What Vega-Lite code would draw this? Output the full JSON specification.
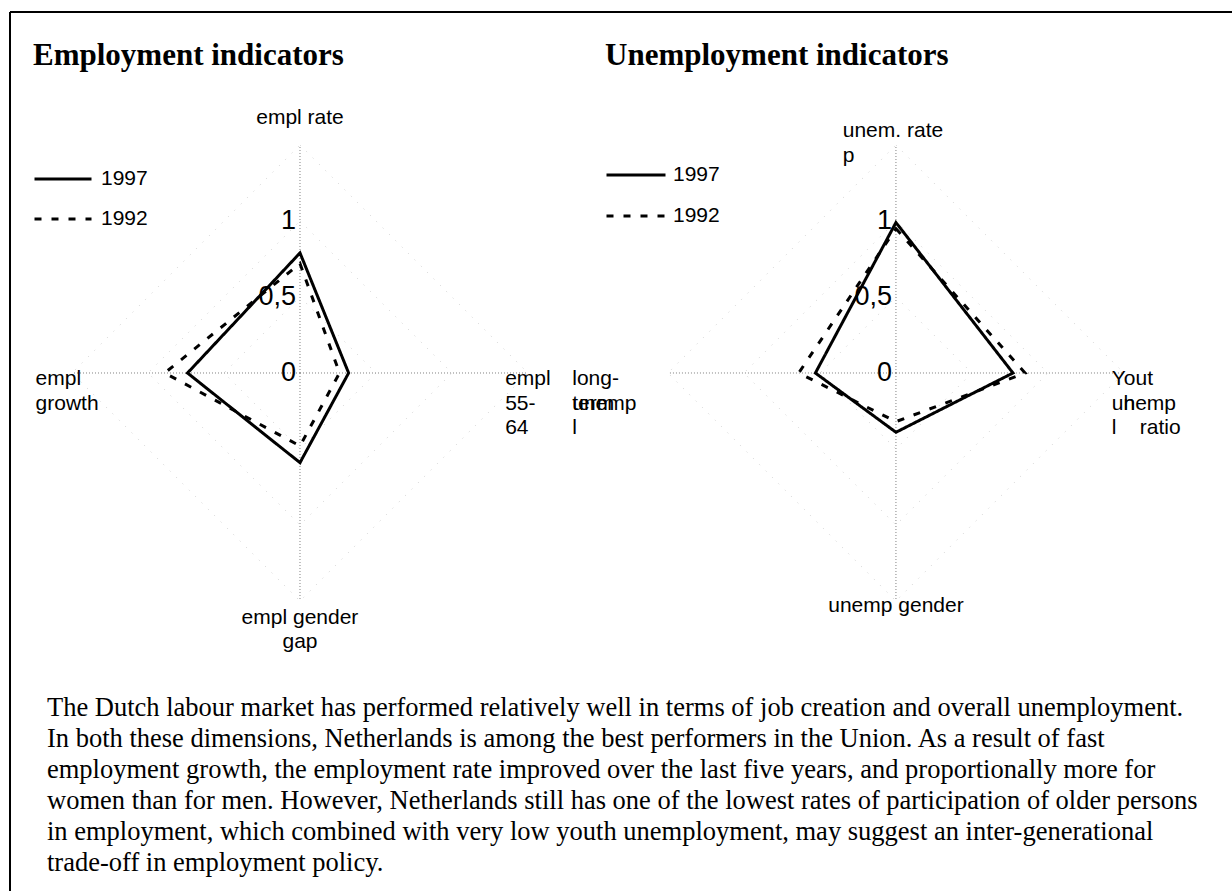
{
  "$schema": "https://vega.github.io/schema/vega-lite/v6.json",
  "width": 1222,
  "height": 879,
  "padding": {"left": 10, "top": 12, "right": 0, "bottom": 0},
  "autosize": {"type": "none"},
  "background": "white",
  "config": {"view": {"stroke": null}},
  "title": {
    "text": [
      "The Dutch labour market has performed relatively well in terms of job creation and overall unemployment.",
      "In both these dimensions, Netherlands is among the best performers in the Union. As a result of fast",
      "employment growth, the employment rate improved over the last five years, and proportionally more for",
      "women than for men. However, Netherlands still has one of the lowest rates of participation of older persons",
      "in employment, which combined with very low youth unemployment, may suggest an inter-generational",
      "trade-off in employment policy."
    ],
    "orient": "bottom",
    "anchor": "start",
    "frame": "group",
    "offset": -197,
    "dx": 37,
    "baseline": "top",
    "font": "Liberation Serif",
    "fontSize": 26.5,
    "fontWeight": "normal",
    "color": "black",
    "lineHeight": 31
  },
  "datasets": {
    "values": [
      {"chart": "E", "order": 0, "axis": "empl rate", "year": "1997", "value": 0.79},
      {"chart": "E", "order": 1, "axis": "empl 55-64", "year": "1997", "value": 0.32},
      {"chart": "E", "order": 2, "axis": "empl gender gap", "year": "1997", "value": 0.59},
      {"chart": "E", "order": 3, "axis": "empl growth", "year": "1997", "value": 0.74},
      {"chart": "E", "order": 0, "axis": "empl rate", "year": "1992", "value": 0.72},
      {"chart": "E", "order": 1, "axis": "empl 55-64", "year": "1992", "value": 0.26},
      {"chart": "E", "order": 2, "axis": "empl gender gap", "year": "1992", "value": 0.48},
      {"chart": "E", "order": 3, "axis": "empl growth", "year": "1992", "value": 0.89},
      {"chart": "U", "order": 0, "axis": "unem. rate", "year": "1997", "value": 0.99},
      {"chart": "U", "order": 1, "axis": "Youth unempl ratio", "year": "1997", "value": 0.77},
      {"chart": "U", "order": 2, "axis": "unemp gender", "year": "1997", "value": 0.39},
      {"chart": "U", "order": 3, "axis": "long-term unempl", "year": "1997", "value": 0.53},
      {"chart": "U", "order": 0, "axis": "unem. rate", "year": "1992", "value": 0.95},
      {"chart": "U", "order": 1, "axis": "Youth unempl ratio", "year": "1992", "value": 0.85},
      {"chart": "U", "order": 2, "axis": "unemp gender", "year": "1992", "value": 0.32},
      {"chart": "U", "order": 3, "axis": "long-term unempl", "year": "1992", "value": 0.64}
    ],
    "spokes": [{"order": 0}, {"order": 1}, {"order": 2}, {"order": 3}],
    "grid": [
      {"level": 0.5, "order": 0}, {"level": 0.5, "order": 1}, {"level": 0.5, "order": 2}, {"level": 0.5, "order": 3},
      {"level": 1, "order": 0}, {"level": 1, "order": 1}, {"level": 1, "order": 2}, {"level": 1, "order": 3},
      {"level": 1.5, "order": 0}, {"level": 1.5, "order": 1}, {"level": 1.5, "order": 2}, {"level": 1.5, "order": 3}
    ],
    "ticks": [
      {"tick": 0, "label": "0"},
      {"tick": 0.5, "label": "0,5"},
      {"tick": 1, "label": "1"}
    ],
    "labels": [
      {"chart": "E", "order": 0, "text": "empl rate"},
      {"chart": "E", "order": 1, "text": "empl\n55-\n64"},
      {"chart": "E", "order": 2, "text": "empl gender\ngap"},
      {"chart": "E", "order": 3, "text": "empl\ngrowth"},
      {"chart": "U", "order": 0, "text": "unem. rate\np"},
      {"chart": "U", "order": 1, "text": "Yout\nunemp\nl\u00a0\u00a0\u00a0\u00a0ratio"},
      {"chart": "U", "order": 1, "text": "\n\u200b\u00a0\u00a0h\n"},
      {"chart": "U", "order": 2, "text": "unemp gender"},
      {"chart": "U", "order": 3, "text": "long-\nterm\nl"},
      {"chart": "U", "order": 3, "text": "\nunemp\n"}
    ],
    "frame": [{"edge": "frame"}]
  },
  "resolve": {
    "scale": {"x": "independent", "strokeDash": "independent"},
    "legend": {"strokeDash": "independent"}
  },
  "layer": [
    {
      "layer": [
        {
          "data": {"name": "frame"},
          "mark": {"type": "rule", "stroke": "black", "strokeWidth": 2},
          "encoding": {
            "y": {"datum": 2.375, "type": "quantitative", "scale": {"domain": [-3.408, 2.375], "nice": false, "zero": false}, "axis": null}
          }
        },
        {
          "data": {"name": "frame"},
          "mark": {"type": "rule", "stroke": "black", "strokeWidth": 2},
          "encoding": {
            "x": {"datum": -1.908, "type": "quantitative", "scale": {"domain": [-1.908, 6.132], "nice": false, "zero": false}, "axis": null}
          }
        },
        {
          "data": {"name": "grid"},
          "transform": [
            {"calculate": "datum.level*sin(datum.order*PI/2)", "as": "gx"},
            {"calculate": "datum.level*cos(datum.order*PI/2)", "as": "gy"}
          ],
          "mark": {"type": "line", "interpolate": "linear-closed", "stroke": "#d2d2d2", "strokeWidth": 1, "strokeDash": [1, 8]},
          "encoding": {
            "x": {"field": "gx", "type": "quantitative", "scale": {"domain": [-1.908, 6.132], "nice": false, "zero": false}, "axis": null},
            "y": {"field": "gy", "type": "quantitative", "scale": {"domain": [-3.408, 2.375], "nice": false, "zero": false}, "axis": null},
            "detail": {"field": "level", "type": "nominal"},
            "order": {"field": "order", "type": "quantitative"}
          }
        },
        {
          "data": {"name": "spokes"},
          "transform": [
            {"calculate": "0", "as": "c"},
            {"calculate": "1.5*sin(datum.order*PI/2)", "as": "sx"},
            {"calculate": "1.5*cos(datum.order*PI/2)", "as": "sy"}
          ],
          "mark": {"type": "rule", "stroke": "#808080", "strokeWidth": 1, "strokeDash": [1, 2]},
          "encoding": {
            "x": {"field": "c", "type": "quantitative", "scale": {"domain": [-1.908, 6.132], "nice": false, "zero": false}, "axis": null},
            "y": {"field": "c", "type": "quantitative", "scale": {"domain": [-3.408, 2.375], "nice": false, "zero": false}, "axis": null},
            "x2": {"field": "sx"},
            "y2": {"field": "sy"}
          }
        },
        {
          "data": {"name": "values"},
          "transform": [
            {"filter": "datum.chart == 'E'"},
            {"calculate": "datum.value*sin(datum.order*PI/2)", "as": "px"},
            {"calculate": "datum.value*cos(datum.order*PI/2)", "as": "py"}
          ],
          "mark": {"type": "line", "interpolate": "linear-closed", "color": "black", "strokeWidth": 3},
          "encoding": {
            "x": {"field": "px", "type": "quantitative", "scale": {"domain": [-1.908, 6.132], "nice": false, "zero": false}, "axis": null},
            "y": {"field": "py", "type": "quantitative", "scale": {"domain": [-3.408, 2.375], "nice": false, "zero": false}, "axis": null},
            "order": {"field": "order", "type": "quantitative"},
            "strokeDash": {
              "field": "year",
              "type": "nominal",
              "scale": {"domain": ["1997", "1992"], "range": [[1, 0], [7, 10]]},
              "legend": {
                "orient": "none",
                "legendX": 23,
                "legendY": 29,
                "title": "Employment indicators",
                "titleFont": "Liberation Serif",
                "titleFontSize": 31,
                "titleFontWeight": "bold",
                "titleColor": "black",
                "titlePadding": 77,
                "titleLimit": 1000,
                "symbolType": "stroke",
                "symbolSize": 3249,
                "symbolStrokeWidth": 3,
                "symbolStrokeColor": "black",
                "labelFont": "Liberation Sans",
                "labelFontSize": 21,
                "labelColor": "black",
                "labelOffset": 8,
                "rowPadding": -25
              }
            }
          }
        },
        {
          "data": {"name": "ticks"},
          "transform": [{"calculate": "0", "as": "tx"}],
          "mark": {"type": "text", "align": "right", "baseline": "middle", "dx": -4, "font": "Liberation Sans", "fontSize": 27, "color": "black"},
          "encoding": {
            "x": {"field": "tx", "type": "quantitative", "scale": {"domain": [-1.908, 6.132], "nice": false, "zero": false}, "axis": null},
            "y": {"field": "tick", "type": "quantitative", "scale": {"domain": [-3.408, 2.375], "nice": false, "zero": false}, "axis": null},
            "text": {"field": "label", "type": "nominal"}
          }
        },
        {
          "data": {"name": "labels"},
          "transform": [
            {"filter": "datum.chart == 'E' && (datum.order == 0 || datum.order == 2)"},
            {"calculate": "0", "as": "lx"},
            {"calculate": "datum.order == 0 ? 1.68 : -1.61", "as": "ly"}
          ],
          "mark": {"type": "text", "align": "center", "baseline": "middle", "lineBreak": "\n", "lineHeight": 24.5, "font": "Liberation Sans", "fontSize": 21, "color": "black"},
          "encoding": {
            "x": {"field": "lx", "type": "quantitative", "scale": {"domain": [-1.908, 6.132], "nice": false, "zero": false}, "axis": null},
            "y": {"field": "ly", "type": "quantitative", "scale": {"domain": [-3.408, 2.375], "nice": false, "zero": false}, "axis": null},
            "text": {"field": "text", "type": "nominal"}
          }
        },
        {
          "data": {"name": "labels"},
          "transform": [
            {"filter": "datum.chart == 'E' && (datum.order == 1 || datum.order == 3)"},
            {"calculate": "datum.order == 1 ? 1.35 : -1.74", "as": "lx"},
            {"calculate": "-0.04", "as": "ly"}
          ],
          "mark": {"type": "text", "align": "left", "baseline": "middle", "lineBreak": "\n", "lineHeight": 24.5, "font": "Liberation Sans", "fontSize": 21, "color": "black"},
          "encoding": {
            "x": {"field": "lx", "type": "quantitative", "scale": {"domain": [-1.908, 6.132], "nice": false, "zero": false}, "axis": null},
            "y": {"field": "ly", "type": "quantitative", "scale": {"domain": [-3.408, 2.375], "nice": false, "zero": false}, "axis": null},
            "text": {"field": "text", "type": "nominal"}
          }
        }
      ]
    },
    {
      "layer": [
        {
          "data": {"name": "grid"},
          "transform": [
            {"calculate": "datum.level*sin(datum.order*PI/2)", "as": "gx"},
            {"calculate": "datum.level*cos(datum.order*PI/2)", "as": "gy"}
          ],
          "mark": {"type": "line", "interpolate": "linear-closed", "stroke": "#d2d2d2", "strokeWidth": 1, "strokeDash": [1, 8]},
          "encoding": {
            "x": {"field": "gx", "type": "quantitative", "scale": {"domain": [-5.829, 2.211], "nice": false, "zero": false}, "axis": null},
            "y": {"field": "gy", "type": "quantitative", "scale": {"domain": [-3.408, 2.375], "nice": false, "zero": false}, "axis": null},
            "detail": {"field": "level", "type": "nominal"},
            "order": {"field": "order", "type": "quantitative"}
          }
        },
        {
          "data": {"name": "spokes"},
          "transform": [
            {"calculate": "0", "as": "c"},
            {"calculate": "1.5*sin(datum.order*PI/2)", "as": "sx"},
            {"calculate": "1.5*cos(datum.order*PI/2)", "as": "sy"}
          ],
          "mark": {"type": "rule", "stroke": "#808080", "strokeWidth": 1, "strokeDash": [1, 2]},
          "encoding": {
            "x": {"field": "c", "type": "quantitative", "scale": {"domain": [-5.829, 2.211], "nice": false, "zero": false}, "axis": null},
            "y": {"field": "c", "type": "quantitative", "scale": {"domain": [-3.408, 2.375], "nice": false, "zero": false}, "axis": null},
            "x2": {"field": "sx"},
            "y2": {"field": "sy"}
          }
        },
        {
          "data": {"name": "values"},
          "transform": [
            {"filter": "datum.chart == 'U'"},
            {"calculate": "datum.value*sin(datum.order*PI/2)", "as": "px"},
            {"calculate": "datum.value*cos(datum.order*PI/2)", "as": "py"}
          ],
          "mark": {"type": "line", "interpolate": "linear-closed", "color": "black", "strokeWidth": 3},
          "encoding": {
            "x": {"field": "px", "type": "quantitative", "scale": {"domain": [-5.829, 2.211], "nice": false, "zero": false}, "axis": null},
            "y": {"field": "py", "type": "quantitative", "scale": {"domain": [-3.408, 2.375], "nice": false, "zero": false}, "axis": null},
            "order": {"field": "order", "type": "quantitative"},
            "strokeDash": {
              "field": "year",
              "type": "nominal",
              "scale": {"domain": ["1997", "1992"], "range": [[1, 0], [7, 10]]},
              "legend": {
                "orient": "none",
                "legendX": 595,
                "legendY": 29,
                "title": "Unemployment indicators",
                "titleFont": "Liberation Serif",
                "titleFontSize": 31,
                "titleFontWeight": "bold",
                "titleColor": "black",
                "titlePadding": 72,
                "titleLimit": 1000,
                "symbolType": "stroke",
                "symbolSize": 3481,
                "symbolStrokeWidth": 3,
                "symbolStrokeColor": "black",
                "labelFont": "Liberation Sans",
                "labelFontSize": 21,
                "labelColor": "black",
                "labelOffset": 6,
                "rowPadding": -28
              }
            }
          }
        },
        {
          "data": {"name": "ticks"},
          "transform": [{"calculate": "0", "as": "tx"}],
          "mark": {"type": "text", "align": "right", "baseline": "middle", "dx": -4, "font": "Liberation Sans", "fontSize": 27, "color": "black"},
          "encoding": {
            "x": {"field": "tx", "type": "quantitative", "scale": {"domain": [-5.829, 2.211], "nice": false, "zero": false}, "axis": null},
            "y": {"field": "tick", "type": "quantitative", "scale": {"domain": [-3.408, 2.375], "nice": false, "zero": false}, "axis": null},
            "text": {"field": "label", "type": "nominal"}
          }
        },
        {
          "data": {"name": "labels"},
          "transform": [
            {"filter": "datum.chart == 'U' && datum.order == 2"},
            {"calculate": "0", "as": "lx"},
            {"calculate": "-1.53", "as": "ly"}
          ],
          "mark": {"type": "text", "align": "center", "baseline": "middle", "lineBreak": "\n", "lineHeight": 24.5, "font": "Liberation Sans", "fontSize": 21, "color": "black"},
          "encoding": {
            "x": {"field": "lx", "type": "quantitative", "scale": {"domain": [-5.829, 2.211], "nice": false, "zero": false}, "axis": null},
            "y": {"field": "ly", "type": "quantitative", "scale": {"domain": [-3.408, 2.375], "nice": false, "zero": false}, "axis": null},
            "text": {"field": "text", "type": "nominal"}
          }
        },
        {
          "data": {"name": "labels"},
          "transform": [
            {"filter": "datum.chart == 'U' && datum.order != 2"},
            {"calculate": "datum.order == 1 ? 1.42 : (datum.order == 3 ? -2.13 : -0.35)", "as": "lx"},
            {"calculate": "datum.order == 0 ? 1.59 : -0.04", "as": "ly"}
          ],
          "mark": {"type": "text", "align": "left", "baseline": "middle", "lineBreak": "\n", "lineHeight": 24.5, "font": "Liberation Sans", "fontSize": 21, "color": "black"},
          "encoding": {
            "x": {"field": "lx", "type": "quantitative", "scale": {"domain": [-5.829, 2.211], "nice": false, "zero": false}, "axis": null},
            "y": {"field": "ly", "type": "quantitative", "scale": {"domain": [-3.408, 2.375], "nice": false, "zero": false}, "axis": null},
            "text": {"field": "text", "type": "nominal"}
          }
        }
      ]
    }
  ]
}
